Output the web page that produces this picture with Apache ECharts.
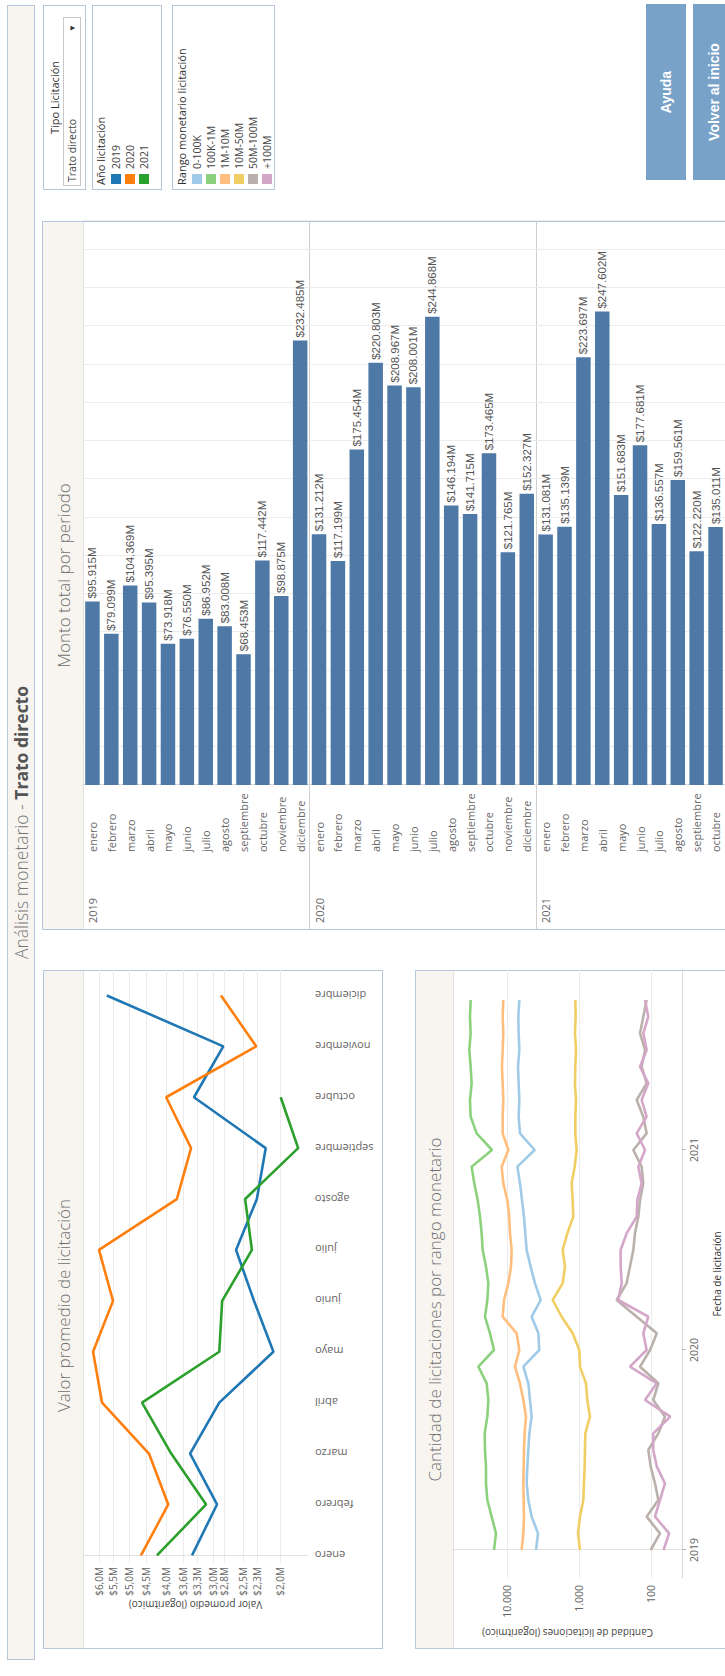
<!DOCTYPE html>
<html lang="es">
<head>
<meta charset="utf-8">
<title>Análisis monetario - Trato directo</title>
<script src="https://cdn.jsdelivr.net/npm/echarts@6/dist/echarts.min.js"></script>
<style>
  html, body { margin: 0; padding: 0; width: 725px; height: 1676px; overflow: hidden; background: #fff; }
  /* The dashboard is laid out in landscape and turned a quarter turn */
  #stage {
    position: absolute; left: 0; top: 0; width: 1676px; height: 725px; overflow: hidden;
    transform-origin: 0 0; transform: translate(0, 1676px) rotate(-90deg);
    font-family: "Open Sans", Lato, "Noto Sans", sans-serif; background: #fff;
  }
  .frame { position: absolute; box-sizing: border-box; border: 1px solid #b4c6d9; background: #fff; }
  .head {
    position: absolute; left: 0; top: 0; right: 0; background: #f8f5f1;
    border-bottom: 1px solid #e2e2e2; color: #6f6f6f; font-size: 17px; font-weight: 300;
    display: flex; align-items: center; justify-content: center; white-space: nowrap;
  }
  #titleBand { left: 16px; top: 7px; width: 1655px; height: 28px; background: #f8f5f1; padding-left: 20px;
    display: flex; align-items: center; justify-content: center; font-size: 17.5px; color: #777; font-weight: 300; white-space: pre; }
  #titleBand b { color: #555; font-weight: 700; }
  .legTitle { position: absolute; font-size: 11px; color: #333; white-space: nowrap; }
  .item { position: absolute; left: 5px; height: 12px; font-size: 10.5px; color: #444; line-height: 12px; white-space: nowrap; }
  .item i { display: inline-block; width: 10px; height: 10px; margin-right: 5px; vertical-align: -1px; }
  .btn { position: absolute; background: #79a2c9; color: #fff; font-family: "Liberation Sans", Arial, sans-serif;
    font-weight: 700; font-size: 14px; display: flex; align-items: center; justify-content: center; }
  #chart { position: absolute; left: 0; top: 0; width: 1676px; height: 725px; z-index: 2; }
</style>
</head>
<body>
<div id="stage">
  <div id="titleBand" class="frame">Análisis monetario - <b>Trato directo</b></div>

  <div class="frame" style="left:27px; top:43px; width:679px; height:340px;">
    <div class="head" style="height:39px; padding-left:8px;">Valor promedio de licitación</div>
  </div>
  <div class="frame" style="left:27px; top:415px; width:679px; height:400px;">
    <div class="head" style="height:37px;">Cantidad de licitaciones por rango monetario</div>
  </div>
  <div class="frame" style="left:746px; top:42px; width:709px; height:720px;">
    <div class="head" style="height:40px;">Monto total por periodo</div>
  </div>

  <div class="frame" style="left:1486px; top:43px; width:185px; height:43px;">
    <div class="legTitle" style="left:0; right:0; top:3px; text-align:center;">Tipo Licitación</div>
    <div style="position:absolute; left:3px; right:11px; top:19px; height:18px; border:1px solid #c9c9c9; box-sizing:border-box; font-size:10.5px; color:#444; line-height:16px; padding-left:3px;">Trato directo<span style="position:absolute; right:6px; top:0; font-size:8px; color:#333;">▼</span></div>
  </div>

  <div class="frame" id="legYear" style="left:1486px; top:92px; width:185px; height:70px;">
    <div class="legTitle" style="left:4px; top:0;">Año licitación</div>
  </div>

  <div class="frame" id="legRange" style="left:1486px; top:172px; width:185px; height:103px;">
    <div class="legTitle" style="left:4px; top:1px;">Rango monetario licitación</div>
  </div>

  <div class="btn" style="left:1496px; top:646px; width:176px; height:40px;">Ayuda</div>
  <div class="btn" style="left:1496px; top:693px; width:176px; height:42px;">Volver al inicio</div>

  <div id="chart"></div>
</div>
<script>
// Calendar labels
const months = ['enero', 'febrero', 'marzo', 'abril', 'mayo', 'junio', 'julio', 'agosto',
  'septiembre', 'octubre', 'noviembre', 'diciembre'];
const years = ['2019', '2020', '2021'];

// Monto total por periodo (millones de pesos)
const monto2019 = [95915, 79099, 104369, 95395, 73918, 76550, 86952, 83008, 68453, 117442, 98875, 232485];
const monto2020 = [131212, 117199, 175454, 220803, 208967, 208001, 244868, 146194, 141715, 173465, 121765, 152327];
const monto2021 = [131081, 135139, 223697, 247602, 151683, 177681, 136557, 159561, 122220, 135011];

// Valor promedio de licitación (millones de pesos)
const promedio2019 = [3.41, 2.93, 3.45, 2.89, 2.08, 2.34, 2.61, 2.30, 2.18, 3.37, 2.82, 5.72];
const promedio2020 = [4.65, 3.94, 4.43, 5.89, 6.22, 5.51, 6.00, 3.74, 3.43, 3.99, 2.31, 2.86];
const promedio2021 = [4.22, 3.13, 3.87, 4.62, 2.89, 2.84, 2.37, 2.47, 1.79, 1.99];
const promedioTicks = [2.0, 2.3, 2.5, 2.8, 3.0, 3.3, 3.6, 4.0, 4.5, 5.0, 5.5, 6.0];

// Cantidad de licitaciones por mes (enero 2019 - octubre 2021) según rango monetario
const rangos = ['0-100K', '100K-1M', '1M-10M', '10M-50M', '50M-100M', '+100M'];
const rangoColors = ['#a0cbe8', '#8cd17d', '#ffbe7d', '#f1ce63', '#bab0ac', '#d4a6c8'];
const cant0_100K = [3955, 3710, 4545, 5055, 5330, 5220, 5055, 4895, 4545, 4795, 5055, 5930,
  3555, 3670, 4545, 3405, 4085, 4690, 5330, 5570, 5810, 6190, 6600, 7180,
  4130, 6600, 6890, 6740, 6890, 7030, 6740, 6890, 6960, 6740];
const cant100K_1M = [15160, 14230, 16330, 18750, 19580, 19580, 20210, 20420, 18750, 18160, 19160, 24990,
  15160, 17220, 20210, 18750, 18160, 19580, 21780, 22490, 23710, 25540, 28460, 30980,
  16160, 26380, 31990, 32660, 30980, 31990, 33370, 31990, 32660, 31990];
const cant1M_10M = [6260, 5930, 5810, 5870, 5930, 5870, 5810, 5690, 5450, 5930, 6600, 7740,
  6740, 7340, 11490, 11000, 9580, 8800, 8610, 9080, 9300, 9900, 11250, 11860,
  9580, 11490, 11490, 11250, 11490, 11750, 11490, 11250, 11490, 11250];
const cant10M_50M = [969, 1033, 969, 871, 853, 835, 826, 817, 704, 767, 800, 969,
  990, 1225, 1741, 2323, 1687, 1565, 1687, 1452, 1199, 1225, 1265, 1148,
  1077, 1125, 1125, 1101, 1138, 1125, 1101, 1138, 1113, 1125];
const cant50M_100M = [101, 75, 115, 79, 88, 101, 109, 79, 64, 93, 79, 142,
  103, 83, 158, 300, 218, 196, 176, 167, 150, 142, 128, 135,
  176, 115, 128, 158, 115, 135, 121, 142, 128, 115];
const cantMas100M = [67, 56, 88, 75, 64, 83, 93, 93, 54, 121, 83, 196,
  115, 128, 109, 285, 255, 264, 264, 218, 158, 155, 135, 150,
  121, 158, 115, 135, 109, 142, 115, 128, 109, 121];
const cantTicks = [100, 1000, 10000];

const yearColors = ['#1f77b4', '#ff7f0e', '#2ca02c'];

// Legends (HTML)
const legYear = document.getElementById('legYear');
years.forEach((y, i) => {
  const d = document.createElement('div');
  d.className = 'item';
  d.style.top = (17 + i * 14) + 'px';
  d.innerHTML = '<i style="background:' + yearColors[i] + '"></i>' + y;
  legYear.appendChild(d);
});
const legRange = document.getElementById('legRange');
rangos.forEach((r, i) => {
  const d = document.createElement('div');
  d.className = 'item';
  d.style.top = (18 + i * 14) + 'px';
  d.innerHTML = '<i style="background:' + rangoColors[i] + '"></i>' + r;
  legRange.appendChild(d);
});

// Helpers
const miles = n => String(n).replace(/\B(?=(\d{3})+(?!\d))/g, '.');

// Rows of the bar table: year x month
const montoByYear = [monto2019, monto2020, monto2021];
const rowMonths = [], rowYears = [], montoRows = [], yearStarts = [];
montoByYear.forEach((arr, yi) => {
  yearStarts.push(rowMonths.length);
  arr.forEach((v, mi) => {
    rowMonths.push(months[mi]);
    rowYears.push(years[yi]);
    montoRows.push(v);
  });
});
const ROW = 19.05;

const promedioSeries = [promedio2019, promedio2020, promedio2021];
const cantSeries = [cant0_100K, cant100K_1M, cant1M_10M, cant10M_50M, cant50M_100M, cantMas100M];

const chart = echarts.init(document.getElementById('chart'), null, { renderer: 'svg', width: 1676, height: 725 });

const option = {
  animation: false,
  textStyle: { fontFamily: '"Open Sans", Lato, sans-serif' },
  grid: [
    { left: 891, top: 83, width: 564, height: ROW * rowMonths.length },
    { left: 113, top: 83, width: 593, height: 225 },
    { left: 98, top: 453, width: 608, height: 229 }
  ],
  xAxis: [
    {
      gridIndex: 0, type: 'value', min: 0, max: 295000, interval: 20000,
      axisLabel: { show: false }, axisLine: { show: false }, axisTick: { show: false },
      splitLine: { lineStyle: { color: '#ececec' } }
    },
    {
      gridIndex: 1, type: 'value', min: -0.15, max: 11.5,
      axisLine: { show: false }, axisTick: { show: false }, splitLine: { show: false },
      axisLabel: {
        customValues: months.map((m, i) => i), rotate: 90, margin: 7,
        color: '#666', fontSize: 11, formatter: v => months[v]
      }
    },
    {
      gridIndex: 2, type: 'value', min: -1.68, max: 34.8,
      axisLine: { show: true, lineStyle: { color: '#d9d9d9' } },
      axisTick: { show: true, customValues: [0, 12, 24], length: 4, lineStyle: { color: '#b5b5b5' } },
      splitLine: { show: false },
      axisLabel: { customValues: [0, 12, 24], margin: 6, color: '#666', fontSize: 10.5, formatter: v => years[v / 12] },
      name: 'Fecha de licitación', nameLocation: 'middle', nameGap: 30,
      nameTextStyle: { fontSize: 10, color: '#333' }
    }
  ],
  yAxis: [
    {
      gridIndex: 0, type: 'category', data: rowMonths, inverse: true,
      axisLine: { lineStyle: { color: '#d6d6d6' } }, axisTick: { show: false },
      axisLabel: { interval: 0, align: 'left', margin: 67, color: '#666', fontSize: 11 },
      splitLine: { show: true, interval: i => yearStarts.indexOf(i) > 0, lineStyle: { color: '#cfcfcf' } }
    },
    {
      gridIndex: 0, type: 'category', data: rowYears, inverse: true, position: 'left',
      axisLine: { show: false },
      axisTick: { show: true, interval: i => yearStarts.indexOf(i) > 0, length: 145, lineStyle: { color: '#cfcfcf' } },
      axisLabel: {
        interval: 0, align: 'left', margin: 138, color: '#666', fontSize: 11,
        formatter: (v, i) => (yearStarts.indexOf(i) >= 0 ? v : '')
      },
      splitLine: { show: false }
    },
    {
      gridIndex: 1, type: 'log', logBase: 10, min: 1.686, max: 6.612,
      axisLine: { show: true, lineStyle: { color: '#e3e3e3' } },
      axisTick: { show: false, customValues: promedioTicks },
      axisLabel: {
        customValues: promedioTicks, margin: 4, color: '#666', fontSize: 10,
        formatter: v => '$' + Number(v).toFixed(1).replace('.', ',') + 'M'
      },
      splitLine: { show: true, lineStyle: { color: '#ebebeb' } },
      name: 'Valor promedio (logarítmico)', nameLocation: 'middle', nameGap: 31,
      nameTextStyle: { fontSize: 10, color: '#444' }
    },
    {
      gridIndex: 2, type: 'log', logBase: 10, min: 37.1, max: 56234,
      axisLine: { show: true, lineStyle: { color: '#e3e3e3' } },
      axisTick: { show: false, customValues: cantTicks },
      axisLabel: { customValues: cantTicks, margin: 7, color: '#666', fontSize: 10.5, formatter: v => miles(Math.round(v)) },
      splitLine: { show: true, lineStyle: { color: '#ebebeb' } },
      name: 'Cantidad de licitaciones (logarítmico)', nameLocation: 'middle', nameGap: 50,
      nameTextStyle: { fontSize: 10, color: '#444' }
    }
  ],
  series: [
    {
      type: 'bar', xAxisIndex: 0, yAxisIndex: 0, data: montoRows, barWidth: 14.5,
      itemStyle: { color: '#4e79a7' },
      label: {
        show: true, position: 'right', distance: 3, color: '#555', fontSize: 11.5,
        fontFamily: '"Liberation Sans", Arial, sans-serif',
        formatter: p => '$' + miles(p.value) + 'M'
      }
    }
  ].concat(promedioSeries.map((arr, yi) => ({
    type: 'line', name: years[yi], xAxisIndex: 1, yAxisIndex: 2,
    data: arr.map((v, i) => [i, v]), showSymbol: false,
    lineStyle: { color: yearColors[yi], width: 2.6 }, itemStyle: { color: yearColors[yi] }
  }))).concat(cantSeries.map((arr, ri) => ({
    type: 'line', name: rangos[ri], xAxisIndex: 2, yAxisIndex: 3,
    data: arr.map((v, i) => [i, v]), showSymbol: false,
    lineStyle: { color: rangoColors[ri], width: 2.6 }, itemStyle: { color: rangoColors[ri] }
  })))
};
chart.setOption(option);
</script>
</body>
</html>
